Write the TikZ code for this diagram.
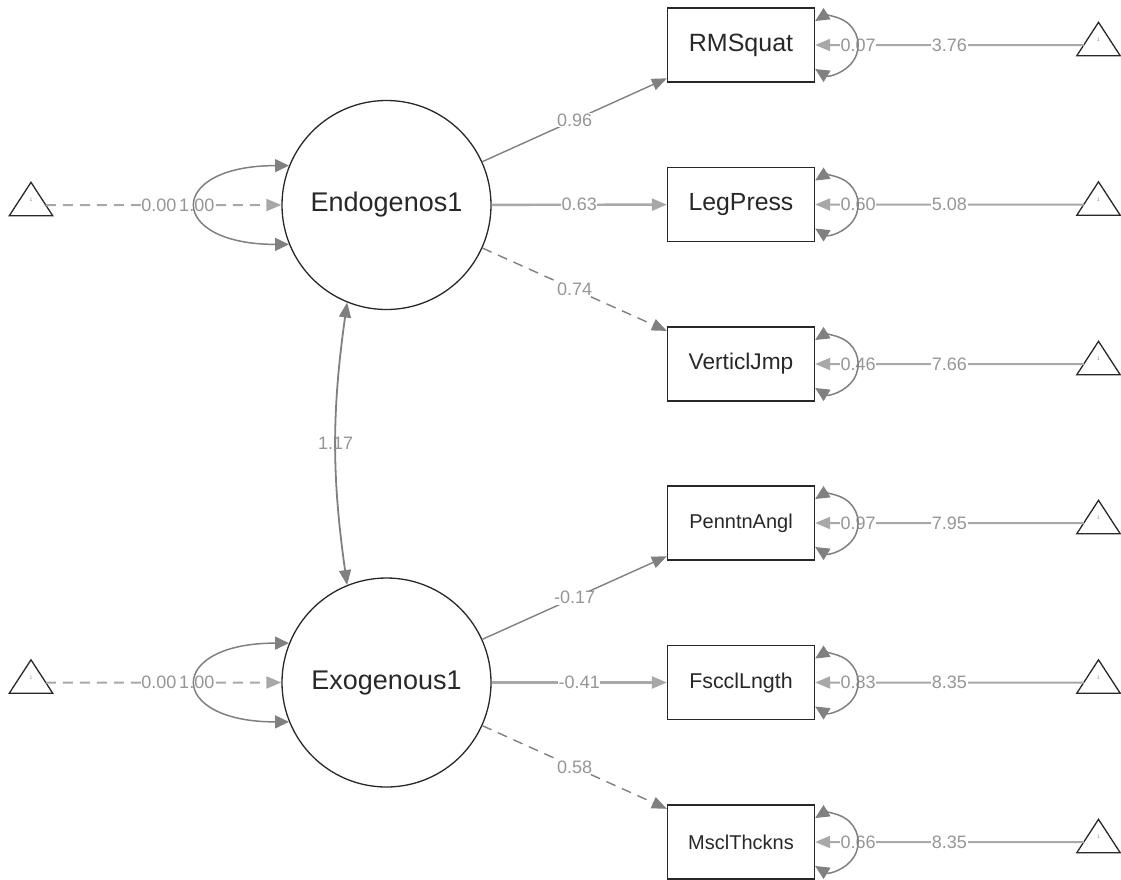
\documentclass[tikz,border=0pt]{standalone}
\usepackage{fontspec}
\setmainfont{Liberation Sans}
\usetikzlibrary{arrows.meta,calc}
\definecolor{edgeA}{RGB}{128,128,128}
\definecolor{edgeB}{RGB}{168,168,168}
\definecolor{lblc}{RGB}{150,150,150}
\definecolor{ink}{RGB}{40,40,40}
\begin{document}
\begin{tikzpicture}[x=1pt,y=1pt,
  latent/.style={circle, draw=ink, line width=1.3pt, minimum size=209pt, inner sep=0pt, font=\fontsize{27}{30}\selectfont, text=ink},
  manifest/.style={rectangle, draw=ink, line width=1.3pt, minimum width=147pt, minimum height=74pt, inner sep=0pt, text=ink},
  tri/.style={minimum width=43pt, minimum height=33pt, inner sep=0pt, font=\fontsize{5}{5}\selectfont, text=black!45},
  tridraw/.style={draw=ink, line width=1.3pt, line join=miter},
  lbl/.style={fill=white, inner sep=0.6pt, text=lblc, font=\fontsize{18}{18}\selectfont},
  tipA/.tip={Triangle[length=15pt,width=12pt]},
  tipB/.tip={Triangle[length=14pt,width=13pt]},
  loadA/.style={draw=edgeA, line width=1.4pt, -tipA},
  loadB/.style={draw=edgeB, line width=2.4pt, -tipA},
  loadD/.style={draw=edgeA, line width=1.4pt, dash pattern=on 10pt off 7pt, -tipA},
  intercept/.style={draw=edgeB, line width=2pt, -tipA},
  meanline/.style={draw=edgeB, line width=2pt, dash pattern=on 10pt off 7pt, -tipA},
  varloop/.style={draw=edgeA, line width=1.5pt, tipB-tipB},
  covar/.style={draw=edgeA, line width=1.8pt, tipA-tipA}
]
\useasboundingbox (0,0) rectangle (1121,-879);

% latent variables
\node[latent] (endo) at (386.5,-205) {Endogenos1};
\node[latent] (exo) at (386.5,-682.5) {Exogenous1};

% manifest variables
\node[manifest, font=\fontsize{25}{28}\selectfont] (rms) at (741,-45) {RMSquat};
\node[manifest, font=\fontsize{24.8}{28}\selectfont] (leg) at (741,-204.5) {LegPress};
\node[manifest, font=\fontsize{22.7}{26}\selectfont] (vrt) at (741,-364) {VerticlJmp};
\node[manifest, font=\fontsize{20}{24}\selectfont] (pen) at (741,-523) {PenntnAngl};
\node[manifest, font=\fontsize{21.4}{24}\selectfont] (fsc) at (741,-682.5) {FscclLngth};
\node[manifest, font=\fontsize{20}{24}\selectfont] (msc) at (741,-842) {MsclThckns};

% intercept triangles (right)
\foreach \n/\yy in {rt1/45, rt2/204.5, rt3/364, rt4/523, rt5/682.5, rt6/842}{
  \node[tri] (\n) at (1098.5,-\yy+6) {\raisebox{-5pt}{1}};
  \draw[tridraw] (\n.south west) -- (\n.north) -- (\n.south east) -- cycle;
}
% intercept triangles (left)
\foreach \n/\yy in {lt1/205, lt2/682.5}{
  \node[tri] (\n) at (31,-\yy+6) {\raisebox{-5pt}{1}};
  \draw[tridraw] (\n.south west) -- (\n.north) -- (\n.south east) -- cycle;
}

% loadings
\draw[loadA] (endo) -- node[lbl] {0.96} (rms);
\draw[loadB] (endo) -- node[lbl] {0.63} (leg);
\draw[loadD] (endo) -- node[lbl] {0.74} (vrt);
\draw[loadA] (exo) -- node[lbl] {-0.17} (pen);
\draw[loadB] (exo) -- node[lbl] {-0.41} (fsc);
\draw[loadD] (exo) -- node[lbl] {0.58} (msc);

% latent means
\draw[meanline] ($(lt1.south east)!0.32!(lt1.north)$) -- node[lbl, pos=0.48] {0.00} (endo);
\draw[meanline] ($(lt2.south east)!0.32!(lt2.north)$) -- node[lbl, pos=0.48] {0.00} (exo);

% latent variances
\path (endo.158) .. controls +(-123,0) and +(-123,0) .. node[lbl] {1.00} (endo.202);
\draw[varloop] (endo.158) .. controls +(-123,0) and +(-123,0) .. (endo.202);
\path (exo.158) .. controls +(-123,0) and +(-123,0) .. node[lbl] {1.00} (exo.202);
\draw[varloop] (exo.158) .. controls +(-123,0) and +(-123,0) .. (exo.202);

% covariance
\draw[covar] (endo.248) to[bend right=8] node[lbl, fill=none] {1.17} (exo.112);

% manifest intercepts and residual variances
\foreach \t/\b/\m/\v in {rt1/rms/3.76/0.07, rt2/leg/5.08/0.60, rt3/vrt/7.66/0.46, rt4/pen/7.95/0.97, rt5/fsc/8.35/0.83, rt6/msc/8.35/0.66}{
  \draw[intercept] ($(\t.south west)!0.32!(\t.north)$) -- node[lbl] {\m} (\b.east);
  \node[lbl] at ([xshift=43pt]\b.east) {\v};
  \draw[varloop] ([yshift=-24pt]\b.east) arc[start angle=-121.7, end angle=121.7, radius=28.2pt];
}
\end{tikzpicture}
\end{document}
